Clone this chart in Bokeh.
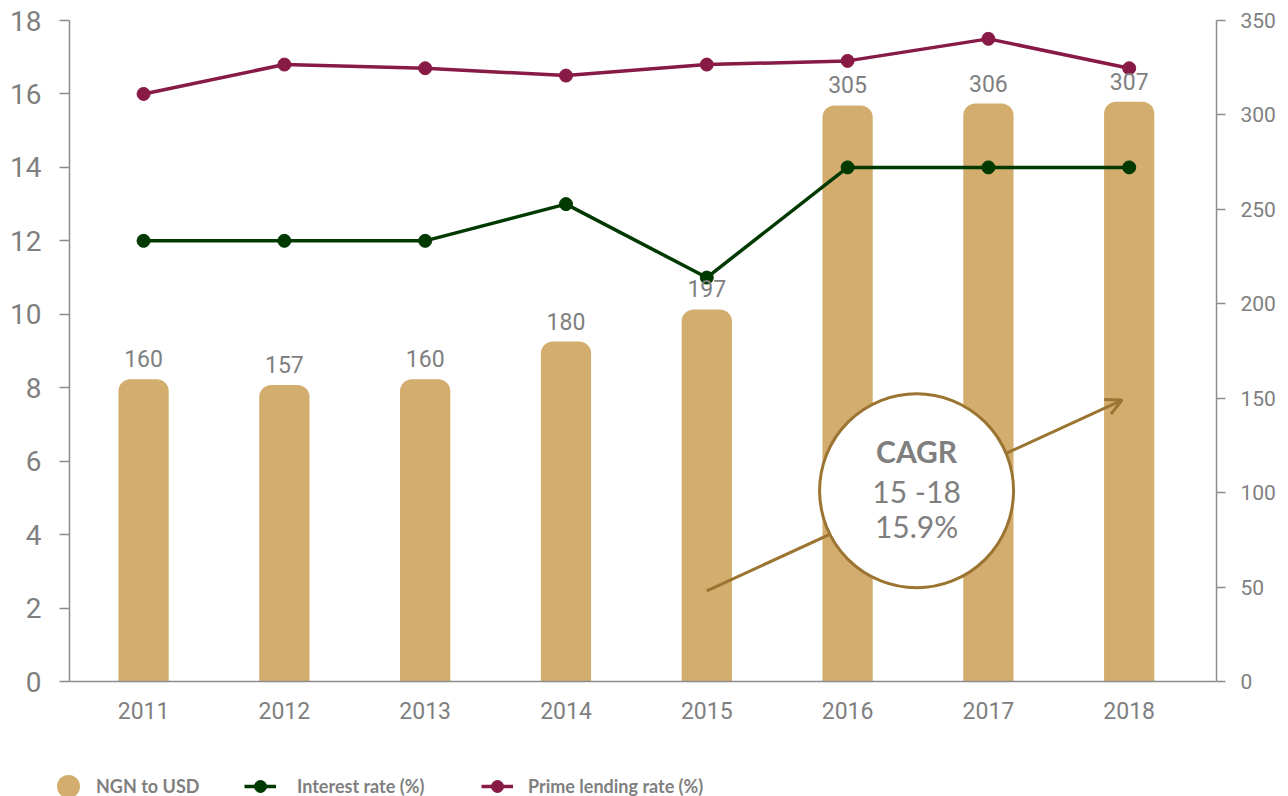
from bokeh.plotting import figure
from bokeh.layouts import column
from bokeh.models import (Range1d, LinearAxis, FixedTicker, ColumnDataSource, LabelSet, Label,
                          Arrow, OpenHead, Legend, LegendItem)
from bokeh.core.properties import value
from bokeh.embed import file_html
from bokeh.resources import INLINE

# ---------------- data ----------------
years = [2011, 2012, 2013, 2014, 2015, 2016, 2017, 2018]
ngn_to_usd = [160, 157, 160, 180, 197, 305, 306, 307]
interest_rate = [12, 12, 12, 13, 11, 14, 14, 14]
prime_lending_rate = [16.0, 16.8, 16.7, 16.5, 16.8, 16.9, 17.5, 16.7]
left_ticks = [0, 2, 4, 6, 8, 10, 12, 14, 16, 18]
right_ticks = [0, 50, 100, 150, 200, 250, 300, 350]
series_names = ["NGN to USD", "Interest rate (%)", "Prime lending rate (%)"]
cagr_title = "CAGR"
cagr_period = "15 -18"
cagr_value = "15.9%"

# ---------------- style ----------------
GOLD = "#D2AD6E"
GREEN = "#013A01"
MAROON = "#881A46"
BROWN = "#9A7430"
GRAY = "#7F7F7F"
AXIS = "#8C8C8C"
NUM_FONT = "Roboto"
TXT_FONT = "Lato"
W = 1288

p = figure(width=W, height=750, output_backend="svg", toolbar_location=None,
           x_range=Range1d(2010.474, 2018.62), y_range=Range1d(0, 18),
           x_axis_type=None, y_axis_type=None,
           min_border_left=69, min_border_right=72, min_border_top=20, min_border_bottom=69)
p.outline_line_color = None
p.extra_y_ranges = {"right": Range1d(0, 350)}


def style_axis(ax, size):
    ax.axis_line_color = AXIS
    ax.axis_line_width = 1.5
    ax.major_tick_line_color = AXIS
    ax.major_tick_line_width = 1.5
    ax.minor_tick_line_color = None
    ax.major_label_text_color = GRAY
    ax.major_label_text_font = NUM_FONT
    ax.major_label_text_font_size = size


left = LinearAxis(ticker=FixedTicker(ticks=left_ticks))
style_axis(left, "28px")
left.major_tick_out = 10
left.major_tick_in = 0
left.major_label_standoff = 18
p.add_layout(left, "left")

right = LinearAxis(y_range_name="right", ticker=FixedTicker(ticks=right_ticks))
style_axis(right, "21px")
right.major_tick_out = 9
right.major_tick_in = 0
right.major_label_standoff = 15
p.add_layout(right, "right")

bottom = LinearAxis(ticker=FixedTicker(ticks=years))
style_axis(bottom, "23px")
bottom.major_tick_out = 0
bottom.major_tick_in = 0
bottom.major_label_standoff = 20
p.add_layout(bottom, "below")

src = ColumnDataSource(dict(year=years, ngn=ngn_to_usd, ir=interest_rate, plr=prime_lending_rate,
                            lbl=[str(v) for v in ngn_to_usd]))

bars = p.vbar(x="year", top="ngn", width=0.357, source=src, y_range_name="right",
              fill_color=GOLD, line_color=None, border_radius=(12, 12, 0, 0))
bars.level = "image"

labels = LabelSet(x="year", y="ngn", text="lbl", source=src, y_range_name="right",
                  text_align="center", text_baseline="alphabetic", y_offset=12,
                  text_font=value(NUM_FONT), text_font_size=value("23px"), text_color=GRAY)
p.add_layout(labels)

p.line(x="year", y="ir", source=src, line_color=GREEN, line_width=3.5)
p.scatter(x="year", y="ir", source=src, size=13, fill_color=GREEN, line_color=GREEN)
p.line(x="year", y="plr", source=src, line_color=MAROON, line_width=3.5)
p.scatter(x="year", y="plr", source=src, size=13, fill_color=MAROON, line_color=MAROON)

# CAGR annotation: arrow behind a white circle
arrow = Arrow(x_start=2015.0, y_start=48, x_end=2017.95, y_end=149, y_range_name="right",
              line_color=BROWN, line_width=3,
              end=OpenHead(size=16, line_color=BROWN, line_width=3))
arrow.level = "underlay"
p.add_layout(arrow)

circ = p.scatter(x=[2016.49], y=[101], y_range_name="right", size=194, marker="circle",
                 fill_color="white", line_color=BROWN, line_width=3)
circ.level = "guide"

for txt, yy, style in [(cagr_title, 122, "bold"), (cagr_period, 101, "normal"), (cagr_value, 82.5, "normal")]:
    p.add_layout(Label(x=2016.49, y=yy, y_range_name="right", text=txt, text_align="center",
                       text_baseline="middle", text_font=TXT_FONT, text_font_size="30px",
                       text_font_style=style, text_color=GRAY))

# ---------------- legend strip ----------------
lg = figure(width=W, height=46, output_backend="svg", toolbar_location=None,
            x_range=Range1d(0, 10), y_range=Range1d(0, 10), x_axis_type=None, y_axis_type=None,
            min_border_left=0, min_border_right=0, min_border_top=0, min_border_bottom=0)
lg.outline_line_color = None
if "frame_align" in lg.properties():
    lg.frame_align = False
    if "frame_align" in p.properties():
        p.frame_align = False
    x0 = 0
else:
    lg.min_border_left = 69
    lg.min_border_right = 72
    x0 = 69

# dummy renderers (kept outside the visible range) that only feed the legend glyphs
gold_dummy = lg.scatter(x=[-100], y=[-100], marker="circle", size=12, fill_color=GOLD,
                        line_color=GOLD, line_width=11)
g_l = lg.line(x=[-100, -99], y=[-100, -100], line_color=GREEN, line_width=3.5)
g_d = lg.scatter(x=[-100], y=[-100], size=13, fill_color=GREEN, line_color=GREEN)
m_l = lg.line(x=[-100, -99], y=[-100, -100], line_color=MAROON, line_width=3.5)
m_d = lg.scatter(x=[-100], y=[-100], size=13, fill_color=MAROON, line_color=MAROON)

entries = [(series_names[0], [gold_dummy], 52, 12),
           (series_names[1], [g_l, g_d], 244, 21),
           (series_names[2], [m_l, m_d], 481, 15)]
for name, rends, lx, standoff in entries:
    lg.add_layout(Legend(items=[LegendItem(label=name, renderers=rends)],
                         orientation="horizontal", location=(max(lx - x0, 0), -5),
                         glyph_width=32, glyph_height=30, label_standoff=standoff,
                         padding=0, margin=0, border_line_color=None, background_fill_alpha=0,
                         label_text_font=TXT_FONT, label_text_font_size="18px",
                         label_text_font_style="bold", label_text_color=GRAY))

layout = column(p, lg, spacing=0)
open("out.html", "w").write(file_html(layout, INLINE))
